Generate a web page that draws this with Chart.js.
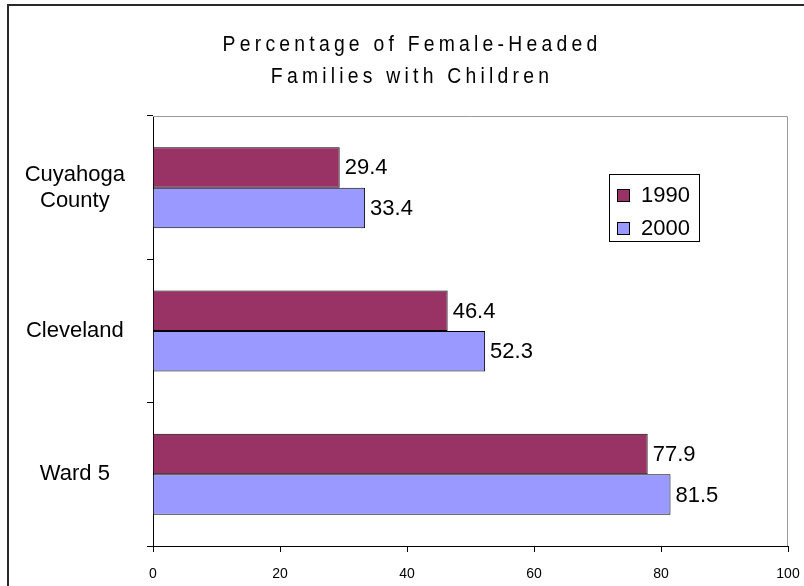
<!DOCTYPE html>
<html>
<head>
<meta charset="utf-8">
<script src="https://cdn.jsdelivr.net/npm/chart.js@4/dist/chart.umd.min.js"></script>
<style>
html,body{margin:0;padding:0;background:#fff;}
#wrap{width:804px;height:586px;}
</style>
</head>
<body>
<div id="wrap"><canvas id="c" width="804" height="586"></canvas></div>
<script>
const categories = [['Cuyahoga', 'County'], 'Cleveland', 'Ward 5'];
const seriesNames = ['1990', '2000'];
const values1990 = [29.4, 46.4, 77.9];
const values2000 = [33.4, 52.3, 81.5];
const titleLines = ['Percentage of Female-Headed', 'Families with Children'];
const xTickValues = [0, 20, 40, 60, 80, 100];

const FONT = '"Liberation Sans", Arial, sans-serif';

const framePlugin = {
  id: 'frame',
  beforeDraw(chart) {
    const ctx = chart.ctx;
    ctx.save();
    ctx.fillStyle = '#fff';
    ctx.fillRect(0, 0, chart.width, chart.height);
    ctx.strokeStyle = '#2a2a2a';
    ctx.lineWidth = 2;
    ctx.beginPath();
    ctx.moveTo(8, chart.height + 2);
    ctx.lineTo(8, 5);
    ctx.lineTo(chart.width + 2, 5);
    ctx.stroke();
    // title (slightly condensed, widely spaced)
    ctx.fillStyle = '#000';
    ctx.font = '22px ' + FONT;
    ctx.textAlign = 'center';
    ctx.textBaseline = 'middle';
    if ('letterSpacing' in ctx) ctx.letterSpacing = '4.8px';
    ctx.translate(412, 0);
    ctx.scale(0.88, 1);
    ctx.fillText(titleLines[0], 0, 45);
    ctx.fillText(titleLines[1], 0, 77);
    ctx.restore();
  },
  beforeDatasetsDraw(chart) {
    const a = chart.chartArea;
    const ctx = chart.ctx;
    ctx.save();
    ctx.strokeStyle = '#9a9a9a';
    ctx.lineWidth = 1;
    ctx.beginPath();
    ctx.moveTo(a.left, a.top + 0.5);
    ctx.lineTo(a.right - 0.5, a.top + 0.5);
    ctx.lineTo(a.right - 0.5, a.bottom);
    ctx.stroke();
    ctx.restore();
  },
  afterDatasetsDraw(chart) {
    const ctx = chart.ctx;
    ctx.save();
    ctx.fillStyle = '#000';
    ctx.font = '22px ' + FONT;
    ctx.textAlign = 'left';
    ctx.textBaseline = 'middle';
    chart.data.datasets.forEach((ds, i) => {
      chart.getDatasetMeta(i).data.forEach((el, j) => {
        ctx.fillText(String(ds.data[j]), el.x + 5, el.y + 1);
      });
    });
    // legend
    const lx = 609, ly = 174, lw = 90, lh = 67;
    ctx.fillStyle = '#fff';
    ctx.fillRect(lx, ly, lw, lh);
    ctx.strokeStyle = '#000';
    ctx.lineWidth = 1;
    ctx.strokeRect(lx + 0.5, ly + 0.5, lw, lh);
    chart.data.datasets.forEach((ds, i) => {
      const cy = 195 + i * 33;
      ctx.fillStyle = ds.backgroundColor;
      ctx.fillRect(617, cy - 6, 13, 13);
      ctx.strokeRect(617.5, cy - 5.5, 12, 12);
      ctx.fillStyle = '#000';
      ctx.fillText(ds.label, 641, cy + 1);
    });
    ctx.restore();
  }
};

new Chart(document.getElementById('c'), {
  type: 'bar',
  data: {
    labels: categories,
    datasets: [
      { label: seriesNames[0], data: values1990, backgroundColor: '#993366', borderColor: '#000', borderWidth: 1 },
      { label: seriesNames[1], data: values2000, backgroundColor: '#9999FF', borderColor: '#000', borderWidth: 1 }
    ]
  },
  options: {
    indexAxis: 'y',
    responsive: false,
    animation: false,
    barPercentage: 1,
    categoryPercentage: 0.565,
    layout: { padding: { top: 116, right: 16, left: 8, bottom: 0 } },
    plugins: { legend: { display: false }, title: { display: false }, tooltip: { enabled: false } },
    scales: {
      x: {
        min: 0, max: 100,
        afterBuildTicks(scale) { scale.ticks = xTickValues.map(v => ({ value: v })); },
        afterFit(scale) { scale.height = 40; scale.paddingLeft = 0; scale.paddingRight = 0; },
        border: { color: '#000', width: 1 },
        grid: { drawOnChartArea: false, drawTicks: true, tickLength: 6, color: '#000' },
        ticks: { color: '#000', font: { family: FONT, size: 14 }, padding: 14, maxRotation: 0 }
      },
      y: {
        afterFit(scale) { scale.width = 145; scale.paddingTop = 0; scale.paddingBottom = 0; },
        border: { color: '#000', width: 1 },
        grid: { drawOnChartArea: false, drawTicks: true, tickLength: 6, color: '#000', offset: true },
        ticks: { color: '#000', font: { family: FONT, size: 22, lineHeight: 1.2 }, crossAlign: 'center', padding: 22 }
      }
    }
  },
  plugins: [framePlugin]
});
</script>
</body>
</html>
